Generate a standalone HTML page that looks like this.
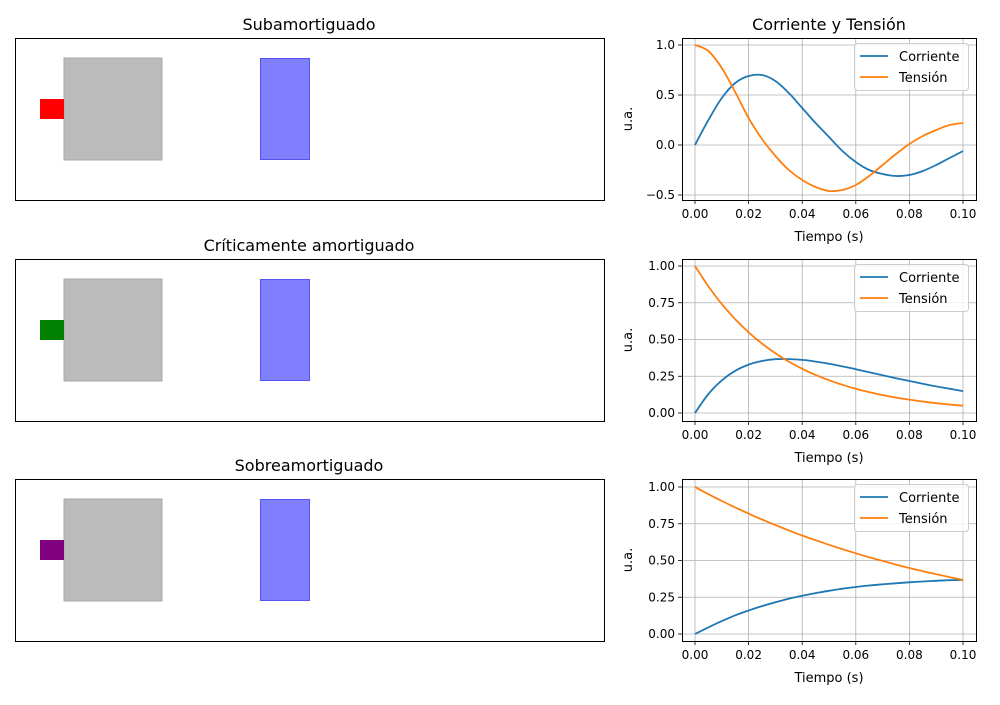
<!DOCTYPE html>
<html><head><meta charset="utf-8"><style>
body{margin:0;background:#fff;font-family:"Liberation Sans","DejaVu Sans",sans-serif}
svg text{font-family:"DejaVu Sans","Liberation Sans",sans-serif}
</style></head><body>
<svg id="fig" width="1000" height="700" xmlns="http://www.w3.org/2000/svg"></svg>
<script>
const times=[0,.005,.01,.015,.02,.025,.03,.035,.04,.045,.05,.055,.06,.065,.07,.075,.08,.085,.09,.095,.1];
const subCurrent=[0,.25,.47,.62,.69,.70,.64,.52,.37,.22,.08,-.06,-.17,-.25,-.29,-.31,-.3,-.26,-.2,-.13,-.06];
const subVoltage=[1,.94,.77,.53,.27,.06,-.11,-.25,-.35,-.42,-.46,-.45,-.4,-.31,-.2,-.09,.01,.09,.15,.2,.22];
const critCurrent=[0,.129,.222,.287,.329,.354,.366,.367,.361,.35,.335,.317,.298,.277,.257,.237,.218,.199,.181,.165,.149];
const critVoltage=[1,.861,.741,.638,.549,.472,.407,.35,.301,.259,.223,.192,.165,.142,.122,.105,.091,.078,.067,.058,.05];
const overCurrent=[0,.045,.088,.127,.16,.19,.216,.24,.26,.278,.294,.308,.32,.33,.338,.345,.352,.357,.362,.366,.368];
const overVoltage=[1,.951,.905,.861,.819,.779,.741,.705,.67,.638,.607,.577,.549,.522,.497,.472,.449,.427,.407,.387,.368];
const xTicks=[0,.02,.04,.06,.08,.1];
const xTickLabels=["0.00","0.02","0.04","0.06","0.08","0.10"];
const yTicks1=[1,.5,0,-.5], yTickLabels1=["1.0","0.5","0.0","−0.5"];
const yTicks2=[1,.75,.5,.25,0], yTickLabels2=["1.00","0.75","0.50","0.25","0.00"];
const titles=["Subamortiguado","Críticamente amortiguado","Sobreamortiguado"];
const markColors=["red","green","purple"];
const NS="http://www.w3.org/2000/svg";
const svg=document.getElementById('fig');
function mk(tag,attrs,parent){const e=document.createElementNS(NS,tag);for(const k in attrs)e.setAttribute(k,attrs[k]);(parent||svg).appendChild(e);return e;}
function smooth(P){let d='M'+P[0][0].toFixed(1)+','+P[0][1].toFixed(1);
 for(let i=0;i<P.length-1;i++){const p0=P[Math.max(0,i-1)],p1=P[i],p2=P[i+1],p3=P[Math.min(P.length-1,i+2)];
 const c1=[p1[0]+(p2[0]-p0[0])/6,p1[1]+(p2[1]-p0[1])/6],c2=[p2[0]-(p3[0]-p1[0])/6,p2[1]-(p3[1]-p1[1])/6];
 d+=' C'+c1.map(v=>v.toFixed(1))+' '+c2.map(v=>v.toFixed(1))+' '+p2.map(v=>v.toFixed(1));}
 return d;}
const offs=[0,221,441];
const charts=[
 {cur:subCurrent,vol:subVoltage,yt:yTicks1,yl:yTickLabels1,ymin:-.5,ymax:1,py0:195,py1:45},
 {cur:critCurrent,vol:critVoltage,yt:yTicks2,yl:yTickLabels2,ymin:0,ymax:1,py0:413,py1:266},
 {cur:overCurrent,vol:overVoltage,yt:yTicks2,yl:yTickLabels2,ymin:0,ymax:1,py0:634,py1:487}];
for(let i=0;i<3;i++){
 const o=offs[i];
 let t=mk('text',{x:309,y:30+o,'font-size':16,'text-anchor':'middle',fill:'#000'});t.textContent=titles[i];
 
 
 let r=mk('rect',{x:15.5,y:38.5+o,width:589,height:162,fill:'none',stroke:'#000','stroke-width':1});
 
 
 r=mk('rect',{x:64,y:58+o,width:98,height:102,fill:'#bbb',stroke:'#aaa','stroke-width':1});
 
 
 r=mk('rect',{x:40,y:99+o,width:24,height:20,fill:markColors[i]});
 
 
 r=mk('rect',{x:260.5,y:58.5+o,width:49,height:101,fill:'#8080ff',stroke:'#5555ee','stroke-width':1});
 
 
 const c=charts[i];
 const X=v=>695+v*2680;
 const Y=v=>c.py0+(v-c.ymin)/(c.ymax-c.ymin)*(c.py1-c.py0);
 const top=38+o, bot=200+o;
 const g=mk('g',{});
 
 
 xTicks.forEach((v,k)=>{
  mk('line',{x1:X(v),x2:X(v),y1:top,y2:bot,stroke:'#b0b0b0','stroke-width':.8},g);
  mk('line',{x1:X(v),x2:X(v),y1:bot,y2:bot+4,stroke:'#000','stroke-width':.8},g);
  const tx=mk('text',{x:X(v),y:bot+18,'font-size':12,'text-anchor':'middle'},g);tx.textContent=xTickLabels[k];
  
  
 });
 c.yt.forEach((v,k)=>{
  mk('line',{x1:682,x2:976,y1:Y(v),y2:Y(v),stroke:'#b0b0b0','stroke-width':.8},g);
  mk('line',{x1:678,x2:682,y1:Y(v),y2:Y(v),stroke:'#000','stroke-width':.8},g);
  const tx=mk('text',{x:675,y:Y(v)+4,'font-size':12,'text-anchor':'end'},g);tx.textContent=c.yl[k];
  
  
 });
 const pts=a=>a.map((v,k)=>[X(times[k]),Y(v)]);
 let p=mk('path',{d:smooth(pts(c.cur)),fill:'none',stroke:'#1f77b4','stroke-width':1.8},g);
 
 
 p=mk('path',{d:smooth(pts(c.vol)),fill:'none',stroke:'#ff7f0e','stroke-width':1.8},g);
 
 
 mk('rect',{x:682.5,y:top+.5,width:294,height:162,fill:'none',stroke:'#000','stroke-width':1},g);
 let tx=mk('text',{x:829,y:bot+41,'font-size':13,'text-anchor':'middle'},g);tx.textContent='Tiempo (s)';
 
 
 tx=mk('text',{x:632,y:top+81,'font-size':13,'text-anchor':'middle',transform:`rotate(-90 632 ${top+81})`},g);tx.textContent='u.a.';
 
 
 const lg=mk('g',{},g);
 
 
 mk('rect',{x:854.5,y:top+5.5,width:114,height:47,rx:3,fill:'#fff','fill-opacity':.8,stroke:'#ccc'},lg);
 mk('line',{x1:860,x2:888,y1:top+18,y2:top+18,stroke:'#1f77b4','stroke-width':1.8},lg);
 mk('line',{x1:860,x2:888,y1:top+39,y2:top+39,stroke:'#ff7f0e','stroke-width':1.8},lg);
 tx=mk('text',{x:899,y:top+23,'font-size':13},lg);tx.textContent='Corriente';
 
 
 tx=mk('text',{x:899,y:top+44,'font-size':13},lg);tx.textContent='Tensión';
 
 
}
const tt=mk('text',{x:829,y:30,'font-size':16,'text-anchor':'middle'});tt.textContent='Corriente y Tensión';


</script>
</body></html>
